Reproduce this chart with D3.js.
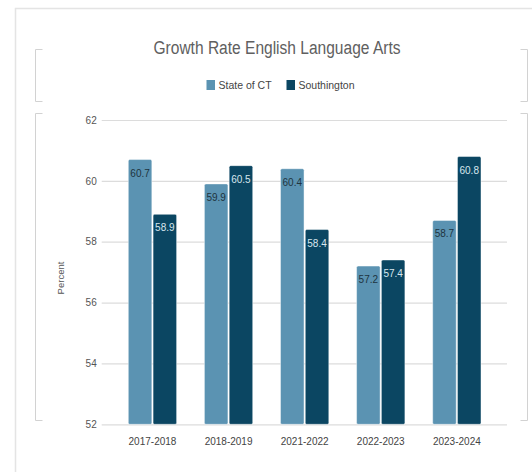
<!DOCTYPE html>
<html>
<head>
<meta charset="utf-8">
<script src="https://cdn.jsdelivr.net/npm/d3@7"></script>
<style>
  html, body { margin: 0; padding: 0; background: #fff; }
</style>
</head>
<body>
<div id="idMyCanvas"></div>
<script>
// Data
// -------------------
let categories = ["2017-2018", "2018-2019", "2021-2022", "2022-2023", "2023-2024"];
let series_names = ["State of CT", "Southington"];
let state_vals = [60.7, 59.9, 60.4, 57.2, 58.7];
let south_vals = [58.9, 60.5, 58.4, 57.4, 60.8];
let y_ticks = [52, 54, 56, 58, 60, 62];
let series_colors = ["#5b93b2", "#0b4662"];
let label_colors = ["#1e3340", "#d8e6ee"];
// -------------------

let width = 532;
let height = 472;
let font_family = "'Liberation Sans', Arial, sans-serif";

let svg_obj = d3.select("#idMyCanvas")
                .append("svg")
                  .attr("width", width)
                  .attr("height", height)
                  .attr("viewBox", [0, 0, width, height].join(" "))
                  .attr("xmlns", "http://www.w3.org/2000/svg");

// Card background
// -------------------
svg_obj.append("rect")
   .attr("x", 15.5)
   .attr("y", 8.5)
   .attr("width", 540)
   .attr("height", 480)
   .attr("fill", "#fff")
   .attr("stroke", "#e4e4e4")
   .attr("stroke-width", 1.5);

// bracket marks round the title area and the plot area
function bracket(x, y0, y1, dir) {
   svg_obj.append("path")
      .attr("d", `M${x + dir * 7},${y0} H${x} V${y1} H${x + dir * 7}`)
      .attr("fill", "none")
      .attr("stroke", "#d2d2d2")
      .attr("stroke-width", 1);
}
bracket(35.5, 49.5, 101.5, 1);
bracket(527.5, 49.5, 101.5, -1);
bracket(35.5, 113.5, 420.5, 1);
bracket(527.5, 113.5, 420.5, -1);
// -------------------

// Scales
// -------------------
let x_scale = d3.scaleBand()
   .domain(categories)
   .range([128.3, 481])
   .paddingInner(0.365)
   .paddingOuter(0);

let x_sub = d3.scaleBand()
   .domain(series_names)
   .range([0, x_scale.bandwidth()])
   .paddingInner(0.05);

let y_scale = d3.scaleLinear()
   .domain([52, 62])
   .range([424.3, 120]);
// -------------------

// Gridlines + y tick labels
// -------------------
let y_axis = d3.axisLeft(y_scale)
   .tickValues(y_ticks)
   .tickSize(-(507 - 101.7))
   .tickPadding(5)
   .tickFormat(d3.format("d"));

let y_axis_g = svg_obj.append("g")
   .attr("transform", "translate(101.7,0)")
   .call(y_axis);
y_axis_g.select(".domain").remove();
y_axis_g.selectAll(".tick line")
   .attr("stroke", "#dcdcdc")
   .attr("stroke-width", 1.2);
y_axis_g.selectAll(".tick text")
   .attr("fill", "#555")
   .attr("font-size", 10)
   .attr("font-family", font_family);

// x axis labels
let x_axis = d3.axisBottom(x_scale).tickSize(0).tickPadding(14);
let x_axis_g = svg_obj.append("g")
   .attr("transform", "translate(0,424.3)")
   .call(x_axis);
x_axis_g.select(".domain").remove();
x_axis_g.selectAll(".tick text")
   .attr("fill", "#444")
   .attr("font-size", 10)
   .attr("font-family", font_family);
// -------------------

// Bars
// -------------------
let rows = categories.map((c, i) => ({
   cat: c,
   vals: [
      { name: series_names[0], v: state_vals[i], k: 0 },
      { name: series_names[1], v: south_vals[i], k: 1 }
   ]
}));

let group_g = svg_obj.append("g")
   .selectAll("g")
   .data(rows)
   .join("g")
   .attr("transform", d => `translate(${x_scale(d.cat)},0)`);

group_g.selectAll("rect")
   .data(d => d.vals)
   .join("rect")
   .attr("x", d => x_sub(d.name))
   .attr("y", d => y_scale(d.v))
   .attr("width", x_sub.bandwidth())
   .attr("height", d => y_scale(52) - y_scale(d.v))
   .attr("rx", 1.5)
   .attr("fill", d => series_colors[d.k])
   .attr("stroke", "rgba(255,255,255,0.45)")
   .attr("stroke-width", 1);

group_g.selectAll("text")
   .data(d => d.vals)
   .join("text")
   .attr("x", d => x_sub(d.name) + x_sub.bandwidth() / 2)
   .attr("y", d => y_scale(d.v) + 17)
   .attr("text-anchor", "middle")
   .attr("font-size", 10)
   .attr("font-family", font_family)
   .attr("fill", d => label_colors[d.k])
   .text(d => d.v.toFixed(1));
// -------------------

// Title, legend, axis title
// -------------------
svg_obj.append("text")
   .attr("x", 277)
   .attr("y", 54)
   .attr("text-anchor", "middle")
   .attr("font-size", 18)
   .attr("font-family", font_family)
   .attr("fill", "#606060")
   .attr("textLength", 247)
   .attr("lengthAdjust", "spacingAndGlyphs")
   .text("Growth Rate English Language Arts");

let legend_x = [206.5, 286.5];
let legend_g = svg_obj.append("g")
   .selectAll("g")
   .data(series_names)
   .join("g")
   .attr("transform", (d, i) => `translate(${legend_x[i]},80)`);
legend_g.append("rect")
   .attr("width", 8.5)
   .attr("height", 10)
   .attr("fill", (d, i) => series_colors[i]);
legend_g.append("text")
   .attr("x", 12)
   .attr("y", 8.5)
   .attr("font-size", 10.5)
   .attr("font-family", font_family)
   .attr("fill", "#444")
   .text(d => d);

svg_obj.append("text")
   .attr("transform", "translate(64,278) rotate(-90)")
   .attr("text-anchor", "middle")
   .attr("font-size", 9.5)
   .attr("font-family", font_family)
   .attr("fill", "#555")
   .text("Percent");
// -------------------
</script>
</body>
</html>
